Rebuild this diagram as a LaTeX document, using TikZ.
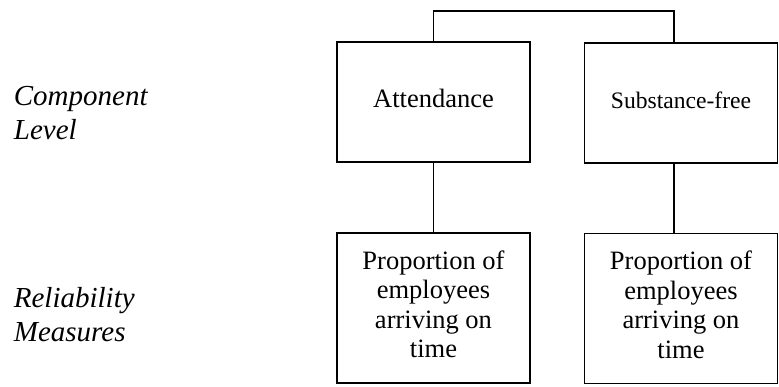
\documentclass[tikz,border=0pt]{standalone}
\usepackage{fontspec}
\setmainfont{Liberation Serif}
\usetikzlibrary{calc}
\begin{document}
\begin{tikzpicture}[x=1pt,y=-1pt,
  line width=1.8pt,
  levelbox/.style={draw, inner sep=0pt, minimum width=193pt, minimum height=120pt,
    text height=18pt, text depth=8pt},
  measurebox/.style={draw, inner sep=0pt, minimum width=193pt, minimum height=150pt,
    align=center, text depth=8pt, font=\fontsize{26.5}{29.5}\selectfont},
  rowlabel/.style={anchor=base west, inner sep=0pt, align=left,
    font=\fontsize{29}{33.5}\selectfont\itshape}]
  \useasboundingbox (0,0) rectangle (779,386);

  % row labels (anchored at the baseline of their last line)
  \node[rowlabel] (lvl) at (13,139) {Component\\Level};
  \node[rowlabel] (rel) at (13,341) {Reliability\\Measures};

  % component level boxes
  \node[levelbox, font=\fontsize{26.5}{29.5}\selectfont] (att) at (433.5,102) {Attendance};
  \node[levelbox, font=\fontsize{23.6}{27}\selectfont] (sub) at (681,103) {Substance-free};

  % measure boxes
  \node[measurebox] (pa) at (433.5,308) {Proportion of\\employees\\arriving on\\time};
  \node[measurebox] (pb) at (681,308.5) {Proportion of\\employees\\arriving on\\time};

  % connectors
  \coordinate (rail) at (674,11);
  \draw (att.north) |- (rail) -- (rail |- sub.north);
  \draw (att.south) -- (pa.north);
  \draw (rail |- sub.south) -- (rail |- pb.north);
\end{tikzpicture}
\end{document}
